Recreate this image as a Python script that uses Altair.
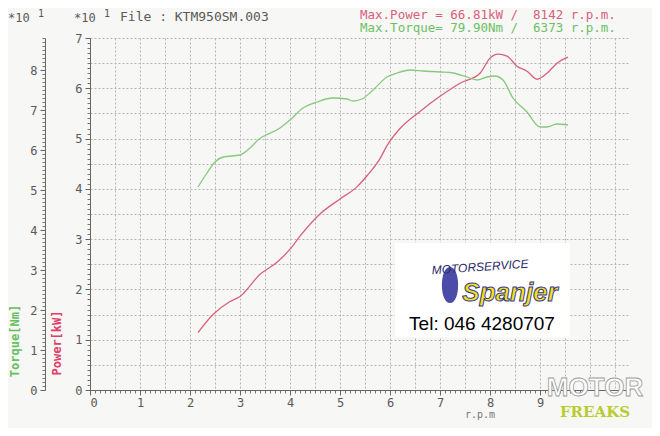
import altair as alt
import pandas as pd

# ---- data read from the dyno sheet ----
power_rpm = [2160, 2460, 2800, 3000, 3400, 3740, 4000, 4200, 4600, 5000, 5340, 5540, 5800, 5940,
             6200, 6600, 7000, 7400, 7800, 8000, 8160, 8340, 8540, 8740, 8940, 9140, 9340, 9560]
power_kw = [11.4, 15.0, 17.6, 18.6, 23.0, 25.4, 28.0, 30.6, 35.0, 38.0, 40.4, 42.6, 46.0, 48.6,
            52.0, 55.4, 58.4, 61.0, 63.0, 66.0, 66.8, 66.4, 64.4, 63.4, 61.8, 63.0, 65.0, 66.2]

torque_rpm = [2160, 2340, 2500, 2660, 3000, 3200, 3360, 3800, 4000, 4260, 4540, 4860, 5140, 5260,
              5440, 5660, 5940, 6140, 6400, 6660, 7000, 7260, 7540, 7740, 7940, 8100, 8260, 8460,
              8740, 9000, 9140, 9340, 9560]
torque_nm = [50.75, 54.25, 57.0, 58.25, 58.75, 60.5, 62.5, 65.5, 67.5, 70.5, 72.0, 73.0, 72.75, 72.25,
             72.75, 75.0, 78.25, 79.25, 80.0, 79.75, 79.5, 79.25, 78.25, 77.5, 78.25, 78.5, 77.5, 73.0,
             69.5, 65.75, 65.75, 66.5, 66.25]

x_ticks = [0, 1000, 2000, 3000, 4000, 5000, 6000, 7000, 8000, 9000]
power_ticks = [0, 10, 20, 30, 40, 50, 60, 70]
torque_ticks = [0, 10, 20, 30, 40, 50, 60, 70, 80]

header_file = "File : KTM950SM.003"
max_power_txt = "Max.Power = 66.81kW /\u00a0\u00a08142 r.p.m."
max_torque_txt = "Max.Torque= 79.90Nm /\u00a0\u00a06373 r.p.m."

# ---- styling ----
RED = "#d9607a"
GREEN = "#86c97e"
GRAY = "#5a5a5a"
MONO = "DejaVu Sans Mono"
X_DOM = [0, 10800]

pdf = pd.DataFrame({"rpm": power_rpm, "kW": power_kw})
tdf = pd.DataFrame({"rpm": torque_rpm, "Nm": torque_nm})

xs = alt.Scale(domain=X_DOM, nice=False, zero=False)
ps = alt.Scale(domain=[0, 70], nice=False)
ts = alt.Scale(domain=[0, 88], nice=False)

x_major = alt.Axis(values=x_ticks, labelExpr="datum.value/1000", title=None, grid=False,
                   tickSize=5, labelFont=MONO, labelFontSize=12, labelColor=GRAY,
                   domainColor="#666", tickColor="#666", labelPadding=2, orient="bottom")
x_grid = alt.Axis(values=[i * 500 for i in range(22)], grid=True, ticks=False, labels=False,
                  domain=False, title=None, gridDash=[2, 2], gridColor="#b5b5b5", gridWidth=1,
                  orient="bottom")
x_minor = alt.Axis(values=[i * 100 for i in range(100)], grid=False, labels=False, domain=False,
                   tickSize=3, tickColor="#777", title=None, orient="bottom")

p_major = alt.Axis(values=power_ticks, labelExpr="datum.value/10", title=None, grid=False,
                   tickSize=5, labelFont=MONO, labelFontSize=12, labelColor=GRAY,
                   domainColor="#666", tickColor="#666", orient="left", offset=0, labelPadding=3)
p_grid = alt.Axis(values=[i * 5 for i in range(15)], grid=True, ticks=False, labels=False,
                  domain=False, title=None, gridDash=[2, 2], gridColor="#b5b5b5", gridWidth=1,
                  orient="left")
p_minor = alt.Axis(values=list(range(0, 71)), grid=False, labels=False, domain=False,
                   tickSize=3, tickColor="#777", title=None, orient="left")

t_major = alt.Axis(values=torque_ticks, labelExpr="datum.value/10", title=None, grid=False,
                   tickSize=5, labelFont=MONO, labelFontSize=12, labelColor=GRAY,
                   domainColor="#666", tickColor="#666", orient="left", offset=45, labelPadding=3)
t_minor = alt.Axis(values=list(range(0, 89)), grid=False, labels=False, domain=False,
                   tickSize=3, tickColor="#777", title=None, orient="left", offset=45)

power_line = alt.Chart(pdf).mark_line(color=RED, strokeWidth=1.3, interpolate="monotone").encode(
    x=alt.X("rpm:Q", scale=xs, axis=x_major),
    y=alt.Y("kW:Q", scale=ps, axis=p_major),
)
grid_layer = alt.Chart(pdf).mark_point(opacity=0).encode(
    x=alt.X("rpm:Q", scale=xs, axis=x_grid),
    y=alt.Y("kW:Q", scale=ps, axis=p_grid),
)
minor_layer = alt.Chart(pdf).mark_point(opacity=0).encode(
    x=alt.X("rpm:Q", scale=xs, axis=x_minor),
    y=alt.Y("kW:Q", scale=ps, axis=p_minor),
)
torque_line = alt.Chart(tdf).mark_line(color=GREEN, strokeWidth=1.3, interpolate="monotone").encode(
    x=alt.X("rpm:Q", scale=xs, axis=None),
    y=alt.Y("Nm:Q", scale=ts, axis=t_major),
)
torque_minor = alt.Chart(tdf).mark_point(opacity=0).encode(
    x=alt.X("rpm:Q", scale=xs, axis=None),
    y=alt.Y("Nm:Q", scale=ts, axis=t_minor),
)

one = pd.DataFrame({"a": [0]})


def label(text, x, y, **kw):
    return alt.Chart(one).mark_text(text=text, **kw).encode(x=alt.value(x), y=alt.value(y))


annots = [
    label("*10", -82, -20, align="left", baseline="middle", font=MONO, fontSize=12, color=GRAY),
    label("1", -52, -24, align="left", baseline="middle", font=MONO, fontSize=10, color=GRAY),
    label("*10", -16, -20, align="left", baseline="middle", font=MONO, fontSize=12, color=GRAY),
    label("1", 14, -24, align="left", baseline="middle", font=MONO, fontSize=10, color=GRAY),
    label(header_file, 30, -21, align="left", baseline="middle", font=MONO, fontSize=13, color=GRAY),
    label(max_power_txt, 270, -23.5, align="left", baseline="middle", font=MONO, fontSize=12.5, color=RED),
    label(max_torque_txt, 270, -10, align="left", baseline="middle", font=MONO, fontSize=12.5, color="#6cbf66"),
    label("Torque[Nm]", -75, 303, align="center", baseline="middle", font=MONO, fontSize=12,
          fontWeight="bold", color="#66c060", angle=270),
    label("Power[kW]", -33, 305, align="center", baseline="middle", font=MONO, fontSize=12,
          fontWeight="bold", color="#e0406a", angle=270),
    label("r.p.m", 390, 377, align="center", baseline="middle", font=MONO, fontSize=10, color="#777"),
]

logo_box = alt.Chart(one).mark_rect(color="white").encode(
    x=alt.value(305), x2=alt.value(480), y=alt.value(205), y2=alt.value(299))
oval = alt.Chart(one).mark_point(
    shape="M0,-1 C0.6,-1 0.6,1 0,1 C-0.6,1 -0.6,-1 0,-1 Z", filled=True, color="#4b4ba8",
    size=1300, opacity=1).encode(x=alt.value(360), y=alt.value(247))
logo = [
    logo_box,
    oval,
    label("MOTORSERVICE", 390, 229, align="center", baseline="middle", font="Liberation Sans",
          fontSize=12, fontStyle="italic", color="#2a2a6a", angle=356),
    label("Spanjer", 420, 255, align="center", baseline="middle", font="Liberation Sans",
          fontSize=26, fontWeight="bold", fontStyle="italic", color="#f2e21e",
          stroke="#3a3a90", strokeWidth=1),
    label("Tel: 046 4280707", 392, 286, align="center", baseline="middle",
          font="Liberation Sans Narrow, Liberation Sans", fontSize=19, color="black"),
]
watermark = [
    label("MOTOR", 505, 350, align="center", baseline="middle", font="Liberation Sans",
          fontSize=26, fontWeight="bold", color="white", stroke="#999", strokeWidth=0.8),
    label("FREAKS", 505, 374, align="center", baseline="middle", font="DejaVu Serif",
          fontSize=15, fontWeight="bold", color="#b8cc30"),
]

chart = alt.layer(grid_layer, minor_layer, torque_minor, power_line, torque_line,
                  *logo, *annots, *watermark).resolve_scale(
    x="independent", y="independent").resolve_axis(x="independent", y="independent").properties(
    width=540, height=352,
    autosize=alt.AutoSizeParams(type="none"),
    padding={"left": 82, "top": 30, "right": 22, "bottom": 38},
).configure(background="#f7f7f5").configure_view(stroke=None)

chart.save("out.html", embed_options={"renderer": "svg", "actions": False})
